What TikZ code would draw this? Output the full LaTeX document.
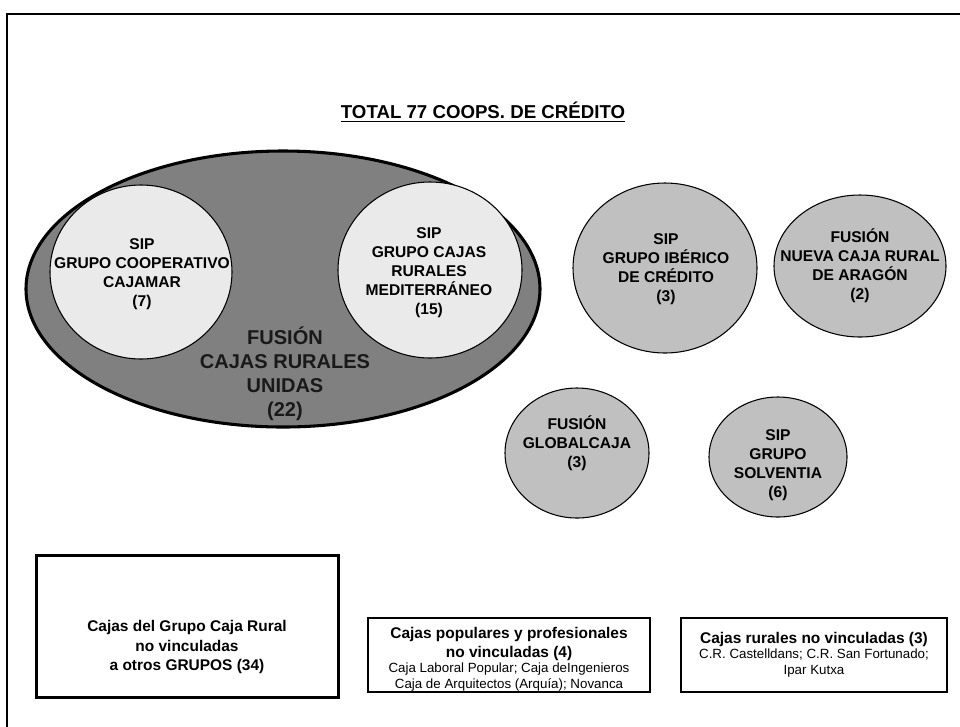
\documentclass[tikz,border=0pt]{standalone}
\usepackage{fontspec}
\setmainfont{Liberation Sans}
\usetikzlibrary{shapes.geometric}
\definecolor{FusionGray}{HTML}{808080}
\definecolor{SipLight}{HTML}{EAEAEA}
\definecolor{GroupGray}{HTML}{C0C0C0}

\begin{document}
\begin{tikzpicture}[x=0.75pt,y=-0.75pt,
  grp/.style={ellipse,draw=black,line width=0.8pt,fill=GroupGray,inner sep=0pt},
  grptxt/.style={align=center,font=\fontsize{11.7}{14.3}\selectfont\bfseries},
  cajabox/.style={draw=black,line width=2.2pt,fill=white,inner sep=0pt},
  boxtxt/.style={align=center,font=\fontsize{11.6}{14.3}\selectfont\bfseries}]
\useasboundingbox (0,0) rectangle (960,726);
\draw[line width=2.2pt] (7,735)--(7,14)--(970,14);
\node[font=\fontsize{14}{16}\selectfont\bfseries] (total) at (483,112) {\underline{TOTAL 77 COOPS. DE CRÉDITO}};
% fusion cajas rurales unidas
\node[grp,fill=FusionGray,line width=2.3pt,minimum width=385.5pt,minimum height=207pt] (unidas) at (283,289) {};
\node[grp,fill=SipLight,minimum width=136.5pt,minimum height=130.5pt] (cajamar) at (141,272) {};
\node[grp,fill=SipLight,minimum width=138pt,minimum height=132pt] (mediterraneo) at (430,270) {};
\node[grptxt] (cajamartxt) at (142,274) {SIP\\GRUPO COOPERATIVO\\CAJAMAR\\(7)};
\node[grptxt] (mediterraneotxt) at (429,273) {SIP\\GRUPO CAJAS\\RURALES\\MEDITERRÁNEO\\(15)};
\node[align=center,text=black!90,font=\fontsize{15}{18}\selectfont\bfseries] (unidastxt) at (285,374) {FUSIÓN\\CAJAS RURALES\\UNIDAS\\(22)};
% otros grupos
\node[grp,minimum width=138pt,minimum height=127.5pt] (iberico) at (665,268) {};
\node[grptxt] (ibericotxt) at (666,269) {SIP\\GRUPO IBÉRICO\\DE CRÉDITO\\(3)};
\node[grp,minimum width=129pt,minimum height=106.5pt] (aragon) at (860,266) {};
\node[grptxt] (aragontxt) at (860,266) {FUSIÓN\\NUEVA CAJA RURAL\\DE ARAGÓN\\(2)};
\node[grp,minimum width=108pt,minimum height=97.5pt] (global) at (577,453) {};
\node[grptxt] (globaltxt) at (577,443) {FUSIÓN\\GLOBALCAJA\\(3)};
\node[grp,minimum width=103.5pt,minimum height=90pt] (solventia) at (778,457) {};
\node[grptxt] (solventiatxt) at (778,465) {SIP\\GRUPO\\SOLVENTIA\\(6)};
% cajas no vinculadas
\node[cajabox,minimum width=227pt,minimum height=106pt] (grupocr) at (187.5,626.5) {};
\node[boxtxt] (grupocrtxt) at (187,647) {Cajas del Grupo Caja Rural\\no vinculadas\\a otros GRUPOS (34)};
\node[cajabox,minimum width=211.5pt,minimum height=55.5pt] (populares) at (509,655) {};
\node[boxtxt] (popularestxt) at (509,659) {Cajas populares y profesionales\\no vinculadas (4)\\[-3pt]{\mdseries\fontsize{10}{12}\selectfont Caja Laboral Popular; Caja deIngenieros}\\[-2.5pt]{\mdseries\fontsize{10}{12}\selectfont Caja de Arquitectos (Arquía); Novanca}};
\node[cajabox,minimum width=199.5pt,minimum height=55.5pt] (rurales) at (814,655) {};
\node[boxtxt] (ruralestxt) at (814,654.5) {Cajas rurales no vinculadas (3)\\[-3pt]{\mdseries\fontsize{10}{12}\selectfont C.R. Castelldans; C.R. San Fortunado;}\\[-2.5pt]{\mdseries\fontsize{10}{12}\selectfont Ipar Kutxa}};
\end{tikzpicture}
\end{document}
